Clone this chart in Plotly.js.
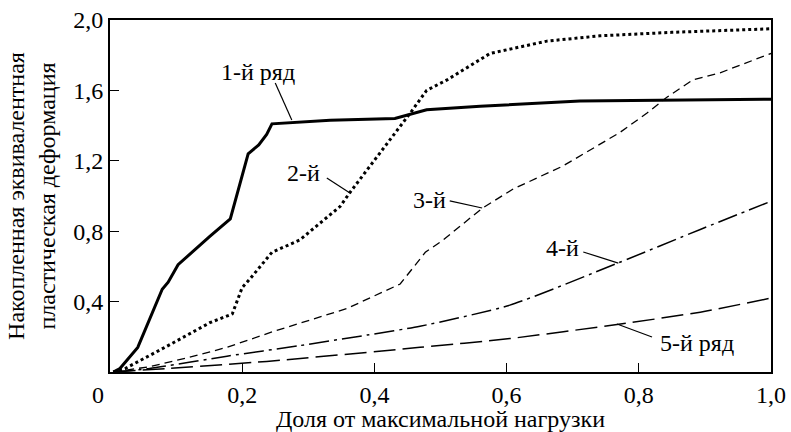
<!DOCTYPE html>
<html><head><meta charset="utf-8">
<script src="https://cdn.plot.ly/plotly-3.0.1.min.js"></script>
<style>html,body{margin:0;padding:0;background:#fff}#c{width:791px;height:432px}</style>
</head><body><div id="c"></div>
<script>
// Series 1 (1-й ряд)
const s1x = [0.005, 0.015, 0.042, 0.079, 0.088, 0.103, 0.151, 0.182, 0.209, 0.225, 0.237, 0.245, 0.333, 0.431, 0.479, 0.56, 0.711, 0.842, 1.0];
const s1y = [0.0, 0.02, 0.14, 0.47, 0.51, 0.61, 0.77, 0.87, 1.24, 1.29, 1.35, 1.41, 1.43, 1.44, 1.49, 1.51, 1.54, 1.545, 1.55];
// Series 2 (2-й)
const s2x = [0.005, 0.023, 0.083, 0.113, 0.151, 0.185, 0.2, 0.212, 0.245, 0.287, 0.348, 0.363, 0.408, 0.454, 0.479, 0.51, 0.575, 0.661, 0.741, 0.85, 1.0];
const s2y = [0.0, 0.02, 0.14, 0.2, 0.28, 0.33, 0.48, 0.53, 0.68, 0.75, 0.94, 1.02, 1.24, 1.47, 1.60, 1.66, 1.81, 1.88, 1.91, 1.93, 1.95];
// Series 3 (3-й)
const s3x = [0.005, 0.06, 0.116, 0.177, 0.247, 0.358, 0.439, 0.477, 0.504, 0.563, 0.61, 0.685, 0.771, 0.812, 0.842, 0.882, 0.923, 1.0];
const s3y = [0.0, 0.03, 0.08, 0.14, 0.23, 0.36, 0.50, 0.68, 0.75, 0.93, 1.04, 1.17, 1.36, 1.47, 1.56, 1.66, 1.70, 1.81];
// Series 4 (4-й)
const s4x = [0.005, 0.06, 0.177, 0.287, 0.389, 0.469, 0.605, 0.769, 0.893, 1.0];
const s4y = [0.0, 0.02, 0.09, 0.15, 0.21, 0.26, 0.38, 0.62, 0.81, 0.97];
// Series 5 (5-й ряд)
const s5x = [0.005, 0.086, 0.237, 0.469, 0.605, 0.767, 0.893, 1.0];
const s5y = [0.0, 0.02, 0.06, 0.14, 0.19, 0.27, 0.34, 0.42];

// Tick labels
const xTickVals = [0, 0.2, 0.4, 0.6, 0.8, 1.0];
const xTickText = ["0&nbsp;&nbsp;&nbsp;&nbsp;", "0,2", "0,4", "0,6", "0,8", "1,0"];
const yTickVals = [0.4, 0.8, 1.2, 1.6, 2.0];
const yTickText = ["0,4", "0,8", "1,2", "1,6", "2,0"];

// Labels
const labelText = ["1-й ряд", "2-й", "3-й", "4-й", "5-й ряд"];
const labelX = [0.224, 0.292, 0.484, 0.685, 0.888];
const labelY = [1.705, 1.131, 0.977, 0.705, 0.165];
const leadX0 = [0.250, 0.328, 0.514, 0.716, 0.767];
const leadY0 = [1.642, 1.102, 0.972, 0.682, 0.273];
const leadX1 = [0.275, 0.363, 0.563, 0.769, 0.820];
const leadY1 = [1.432, 1.017, 0.932, 0.619, 0.199];

const font = "Liberation Serif";
const traces = [
  {x: s1x, y: s1y, mode: 'lines', line: {color: '#000', width: 3}},
  {x: s2x, y: s2y, mode: 'lines', line: {color: '#000', width: 3, dash: 'dot'}},
  {x: s3x, y: s3y, mode: 'lines', line: {color: '#000', width: 1.3, dash: '8px,5px'}},
  {x: s4x, y: s4y, mode: 'lines', line: {color: '#000', width: 1.5, dash: '20px,5px,3px,5px', shape: 'spline', smoothing: 0.6}},
  {x: s5x, y: s5y, mode: 'lines', line: {color: '#000', width: 1.5, dash: '22px,7px', shape: 'spline', smoothing: 0.6}}
];
const annotations = labelText.map((t, i) => ({
  x: labelX[i], y: labelY[i], xref: 'x', yref: 'y', text: t, showarrow: false,
  font: {family: font, size: 24, color: '#000'}
}));
const shapes = labelText.map((t, i) => ({
  type: 'line', xref: 'x', yref: 'y', x0: leadX0[i], y0: leadY0[i], x1: leadX1[i], y1: leadY1[i],
  line: {color: '#000', width: 1.2}
}));
const layout = {
  width: 791, height: 432,
  margin: {l: 110, r: 20, t: 20, b: 60},
  paper_bgcolor: '#fff', plot_bgcolor: '#fff',
  showlegend: false,
  font: {family: font, size: 24, color: '#000'},
  xaxis: {
    range: [0, 1.0], tickvals: xTickVals, ticktext: xTickText,
    ticks: 'inside', ticklen: 9, tickwidth: 1.2, tickcolor: '#000',
    showline: true, linecolor: '#000', linewidth: 2, mirror: true,
    showgrid: false, zeroline: false,
    title: {text: 'Доля от максимальной нагрузки', font: {family: font, size: 24}, standoff: 0},
    tickfont: {family: font, size: 24}
  },
  yaxis: {
    range: [0, 2.0], tickvals: yTickVals, ticktext: yTickText,
    ticks: 'inside', ticklen: 9, tickwidth: 1.2, tickcolor: '#000',
    showline: true, linecolor: '#000', linewidth: 2, mirror: true,
    showgrid: false, zeroline: false,
    title: {text: 'Накопленная эквивалентная<br>пластическая деформация', font: {family: font, size: 24}, standoff: 11},
    tickfont: {family: font, size: 24}
  },
  annotations: annotations,
  shapes: shapes
};
Plotly.newPlot('c', traces, layout, {staticPlot: true, displayModeBar: false});
</script>
</body></html>
